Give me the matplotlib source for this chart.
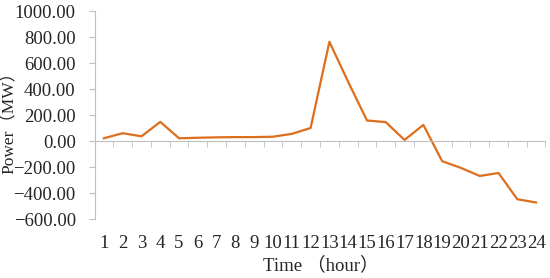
import numpy as np
import matplotlib.pyplot as plt

plt.rcParams['font.family'] = ['Liberation Serif', 'Noto Sans CJK SC']

# data
hours = np.arange(1, 25)
power = [21, 60, 36, 147, 21, 25, 28, 30, 30, 33, 55, 100,
         763, 455, 158, 145, 8, 124, -155, -207, -269, -246, -448, -473]
yticks = np.arange(-600, 1001, 200)

fig = plt.figure(figsize=(5.5, 2.78), dpi=100)
ax = fig.add_axes([94.5 / 550, 1 - 219 / 278, 451 / 550, 208 / 278])

ax.plot(hours, power, color='#DD6E1E', linewidth=1.6)

ax.set_xlim(0.5, 24.5)
ax.set_ylim(-600, 1000)
ax.set_yticks(yticks)
ax.set_yticklabels([f'{v:.2f}'.replace('-', '\u2212') for v in yticks])

# category axis sitting on the zero line
ax.spines['bottom'].set_position(('data', 0))
ax.spines['bottom'].set_color('#BFBFBF')
ax.spines['left'].set_color('#BFBFBF')
ax.spines['top'].set_visible(False)
ax.spines['right'].set_visible(False)

ax.set_xticks(hours)
ax.set_xticklabels([str(h) for h in hours])
ax.set_xticks(np.arange(0.5, 25, 1), minor=True)
ax.tick_params(axis='x', which='major', length=0, pad=68, labelsize=13.5,
               labelcolor='#262626')
ax.tick_params(axis='x', which='minor', length=4, color='#BFBFBF')
ax.tick_params(axis='y', length=4.5, color='#BFBFBF', labelsize=13.5,
               labelcolor='#262626', pad=9)

fig.text(0.5 * (95 + 547) / 550, 1 - 265 / 278, 'Time （hour）', ha='center',
         va='center', fontsize=13.5, color='#262626')
fig.text(9.5 / 550, 1 - 118 / 278, 'Power（MW）', rotation=90, ha='center',
         va='center', fontsize=12.5, color='#262626')

plt.savefig('out.png', dpi=100)
